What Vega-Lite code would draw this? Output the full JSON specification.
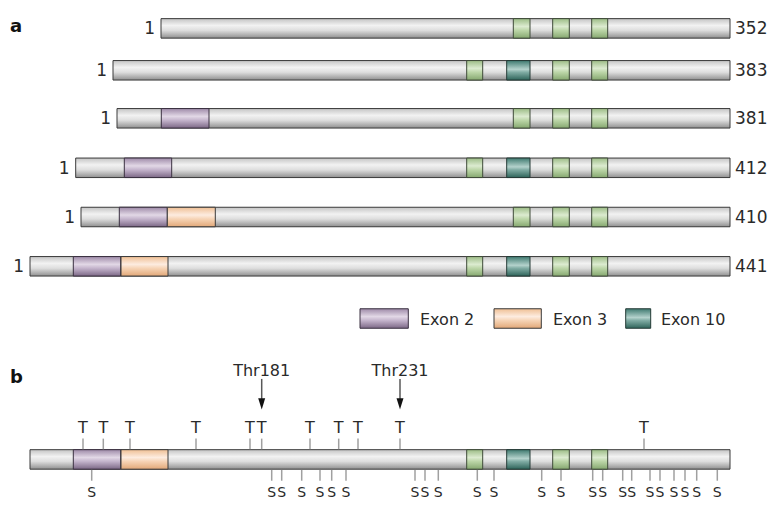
{
  "$schema": "https://vega.github.io/schema/vega-lite/v6.json",
  "width": 771,
  "height": 506,
  "autosize": {"type": "none"},
  "padding": 0,
  "background": "white",
  "config": {"view": {"stroke": null}, "text": {"font": "DejaVu Sans", "color": "#2a2a2a"}},
  "datasets": {
    "segs": [
      {"track": 1, "type": "grey", "start": 161, "end": 730},
      {"track": 1, "type": "green", "start": 513.3, "end": 530},
      {"track": 1, "type": "green", "start": 552.7, "end": 569.3},
      {"track": 1, "type": "green", "start": 591.7, "end": 607.7},
      {"track": 2, "type": "grey", "start": 113, "end": 730},
      {"track": 2, "type": "green", "start": 466.7, "end": 482.7},
      {"track": 2, "type": "teal", "start": 506.7, "end": 530},
      {"track": 2, "type": "green", "start": 552.7, "end": 569.3},
      {"track": 2, "type": "green", "start": 591.7, "end": 607.7},
      {"track": 3, "type": "grey", "start": 117, "end": 730},
      {"track": 3, "type": "purple", "start": 161.3, "end": 209},
      {"track": 3, "type": "green", "start": 513.3, "end": 530},
      {"track": 3, "type": "green", "start": 552.7, "end": 569.3},
      {"track": 3, "type": "green", "start": 591.7, "end": 607.7},
      {"track": 4, "type": "grey", "start": 75.7, "end": 730},
      {"track": 4, "type": "purple", "start": 124.3, "end": 171.7},
      {"track": 4, "type": "green", "start": 466.7, "end": 482.7},
      {"track": 4, "type": "teal", "start": 506.7, "end": 530},
      {"track": 4, "type": "green", "start": 552.7, "end": 569.3},
      {"track": 4, "type": "green", "start": 591.7, "end": 607.7},
      {"track": 5, "type": "grey", "start": 81, "end": 730},
      {"track": 5, "type": "purple", "start": 119.3, "end": 167.3},
      {"track": 5, "type": "orange", "start": 167.3, "end": 215.3},
      {"track": 5, "type": "green", "start": 513.3, "end": 530},
      {"track": 5, "type": "green", "start": 552.7, "end": 569.3},
      {"track": 5, "type": "green", "start": 591.7, "end": 607.7},
      {"track": 6, "type": "grey", "start": 30, "end": 730},
      {"track": 6, "type": "purple", "start": 73.3, "end": 120.7},
      {"track": 6, "type": "orange", "start": 121, "end": 168},
      {"track": 6, "type": "green", "start": 466.7, "end": 482.7},
      {"track": 6, "type": "teal", "start": 506.7, "end": 530},
      {"track": 6, "type": "green", "start": 552.7, "end": 569.3},
      {"track": 6, "type": "green", "start": 591.7, "end": 607.7},
      {"track": 7, "type": "purple", "start": 360, "end": 408.3},
      {"track": 7, "type": "orange", "start": 494, "end": 541.3},
      {"track": 7, "type": "teal", "start": 625.7, "end": 650.7},
      {"track": 9, "type": "grey", "start": 30, "end": 730},
      {"track": 9, "type": "purple", "start": 73.3, "end": 120.7},
      {"track": 9, "type": "orange", "start": 121, "end": 168},
      {"track": 9, "type": "green", "start": 466.7, "end": 482.7},
      {"track": 9, "type": "teal", "start": 506.7, "end": 530},
      {"track": 9, "type": "green", "start": 552.7, "end": 569.3},
      {"track": 9, "type": "green", "start": 591.7, "end": 607.7}
    ],
    "ends": [
      {"track": 1, "start": 161, "end": 730, "first": "1", "last": "352"},
      {"track": 2, "start": 113, "end": 730, "first": "1", "last": "383"},
      {"track": 3, "start": 117, "end": 730, "first": "1", "last": "381"},
      {"track": 4, "start": 75.7, "end": 730, "first": "1", "last": "412"},
      {"track": 5, "start": 81, "end": 730, "first": "1", "last": "410"},
      {"track": 6, "start": 30, "end": 730, "first": "1", "last": "441"}
    ],
    "legend": [
      {"track": 7, "pos": 420, "label": "Exon 2"},
      {"track": 7, "pos": 553, "label": "Exon 3"},
      {"track": 7, "pos": 661, "label": "Exon 10"}
    ],
    "panels": [
      {"track": 1, "pos": 10, "label": "a"},
      {"track": 8, "pos": 10, "label": "b"}
    ],
    "thr": [
      {"track": 9, "pos": 261.7, "label": "Thr181"},
      {"track": 9, "pos": 400, "label": "Thr231"}
    ],
    "sites": [
      {"track": 9, "kind": "T", "pos": 83},
      {"track": 9, "kind": "T", "pos": 103.3},
      {"track": 9, "kind": "T", "pos": 130},
      {"track": 9, "kind": "T", "pos": 196},
      {"track": 9, "kind": "T", "pos": 250},
      {"track": 9, "kind": "T", "pos": 261.7},
      {"track": 9, "kind": "T", "pos": 310},
      {"track": 9, "kind": "T", "pos": 338.7},
      {"track": 9, "kind": "T", "pos": 358},
      {"track": 9, "kind": "T", "pos": 400},
      {"track": 9, "kind": "T", "pos": 644},
      {"track": 9, "kind": "S", "pos": 91.7},
      {"track": 9, "kind": "S", "pos": 271.7},
      {"track": 9, "kind": "S", "pos": 281.7},
      {"track": 9, "kind": "S", "pos": 301.7},
      {"track": 9, "kind": "S", "pos": 320},
      {"track": 9, "kind": "S", "pos": 331.7},
      {"track": 9, "kind": "S", "pos": 346},
      {"track": 9, "kind": "S", "pos": 415},
      {"track": 9, "kind": "S", "pos": 425},
      {"track": 9, "kind": "S", "pos": 438.3},
      {"track": 9, "kind": "S", "pos": 477.3},
      {"track": 9, "kind": "S", "pos": 494},
      {"track": 9, "kind": "S", "pos": 541.7},
      {"track": 9, "kind": "S", "pos": 561},
      {"track": 9, "kind": "S", "pos": 592.7},
      {"track": 9, "kind": "S", "pos": 602.7},
      {"track": 9, "kind": "S", "pos": 622.7},
      {"track": 9, "kind": "S", "pos": 631.7},
      {"track": 9, "kind": "S", "pos": 650},
      {"track": 9, "kind": "S", "pos": 660},
      {"track": 9, "kind": "S", "pos": 674},
      {"track": 9, "kind": "S", "pos": 685},
      {"track": 9, "kind": "S", "pos": 696.7},
      {"track": 9, "kind": "S", "pos": 717.3}
    ]
  },
  "encoding": {
    "y": {"field": "track", "type": "quantitative", "axis": null,
          "scale": {"domain": [1, 2, 3, 4, 5, 6, 7, 8, 9], "range": [24.5, 70.3, 118.3, 167.8, 217, 266.3, 318.5, 383, 466.5], "zero": false, "nice": false}}
  },
  "layer": [
    {
      "data": {"name": "segs"},
      "transform": [{"filter": "datum.type === 'grey'"}],
      "mark": {"type": "bar", "orient": "horizontal", "height": 19.5, "stroke": "#3a3a3a", "strokeWidth": 1,
               "fill": {"gradient": "linear", "x1": 0, "y1": 0, "x2": 0, "y2": 1,
                        "stops": [{"offset": 0, "color": "#c4c4c4"}, {"offset": 0.35, "color": "#f2f2f2"}, {"offset": 0.6, "color": "#dedede"}, {"offset": 1, "color": "#909090"}]}},
      "encoding": {
        "x": {"field": "start", "type": "quantitative", "axis": null, "scale": {"domain": [0, 771], "zero": false, "nice": false}},
        "x2": {"field": "end"}
      }
    },
    {
      "data": {"name": "segs"},
      "transform": [{"filter": "datum.type === 'purple'"}],
      "mark": {"type": "bar", "orient": "horizontal", "height": 19.5, "stroke": "#3a3040", "strokeWidth": 1,
               "fill": {"gradient": "linear", "x1": 0, "y1": 0, "x2": 0, "y2": 1,
                        "stops": [{"offset": 0, "color": "#9e8aa8"}, {"offset": 0.4, "color": "#e2d8e6"}, {"offset": 0.6, "color": "#c4b4cc"}, {"offset": 1, "color": "#7c6886"}]}},
      "encoding": {
        "x": {"field": "start", "type": "quantitative", "axis": null, "scale": {"domain": [0, 771], "zero": false, "nice": false}},
        "x2": {"field": "end"}
      }
    },
    {
      "data": {"name": "segs"},
      "transform": [{"filter": "datum.type === 'orange'"}],
      "mark": {"type": "bar", "orient": "horizontal", "height": 19.5, "stroke": "#3a3a3a", "strokeWidth": 1,
               "fill": {"gradient": "linear", "x1": 0, "y1": 0, "x2": 0, "y2": 1,
                        "stops": [{"offset": 0, "color": "#efbf94"}, {"offset": 0.4, "color": "#fdece0"}, {"offset": 0.6, "color": "#f6d4b6"}, {"offset": 1, "color": "#e2a878"}]}},
      "encoding": {
        "x": {"field": "start", "type": "quantitative", "axis": null, "scale": {"domain": [0, 771], "zero": false, "nice": false}},
        "x2": {"field": "end"}
      }
    },
    {
      "data": {"name": "segs"},
      "transform": [{"filter": "datum.type === 'teal'"}],
      "mark": {"type": "bar", "orient": "horizontal", "height": 19.5, "stroke": "#243a36", "strokeWidth": 1,
               "fill": {"gradient": "linear", "x1": 0, "y1": 0, "x2": 0, "y2": 1,
                        "stops": [{"offset": 0, "color": "#3f7a70"}, {"offset": 0.45, "color": "#b4d2cc"}, {"offset": 0.6, "color": "#80aca4"}, {"offset": 1, "color": "#2e645a"}]}},
      "encoding": {
        "x": {"field": "start", "type": "quantitative", "axis": null, "scale": {"domain": [0, 771], "zero": false, "nice": false}},
        "x2": {"field": "end"}
      }
    },
    {
      "data": {"name": "segs"},
      "transform": [{"filter": "datum.type === 'green'"}],
      "mark": {"type": "bar", "orient": "horizontal", "height": 19.5, "stroke": "#3e4a38", "strokeWidth": 1,
               "fill": {"gradient": "linear", "x1": 0, "y1": 0, "x2": 0, "y2": 1,
                        "stops": [{"offset": 0, "color": "#9cbc86"}, {"offset": 0.4, "color": "#dcebd0"}, {"offset": 0.6, "color": "#bcd6a8"}, {"offset": 1, "color": "#86a870"}]}},
      "encoding": {
        "x": {"field": "start", "type": "quantitative", "axis": null, "scale": {"domain": [0, 771], "zero": false, "nice": false}},
        "x2": {"field": "end"}
      }
    },
    {
      "data": {"name": "ends"},
      "mark": {"type": "text", "align": "right", "baseline": "middle", "dx": -6, "dy": 1, "fontSize": 17},
      "encoding": {
        "x": {"field": "start", "type": "quantitative", "axis": null, "scale": {"domain": [0, 771], "zero": false, "nice": false}},
        "text": {"field": "first"}
      }
    },
    {
      "data": {"name": "ends"},
      "mark": {"type": "text", "align": "left", "baseline": "middle", "dx": 5, "dy": 1, "fontSize": 17},
      "encoding": {
        "x": {"field": "end", "type": "quantitative", "axis": null, "scale": {"domain": [0, 771], "zero": false, "nice": false}},
        "text": {"field": "last"}
      }
    },
    {
      "data": {"name": "legend"},
      "mark": {"type": "text", "align": "left", "baseline": "middle", "dy": 1, "fontSize": 16},
      "encoding": {
        "x": {"field": "pos", "type": "quantitative", "axis": null, "scale": {"domain": [0, 771], "zero": false, "nice": false}},
        "text": {"field": "label"}
      }
    },
    {
      "data": {"name": "panels"},
      "transform": [{"filter": "datum.label === 'a'"}],
      "mark": {"type": "text", "align": "left", "baseline": "alphabetic", "dy": 4, "fontSize": 18, "fontWeight": "bold", "color": "#111"},
      "encoding": {
        "x": {"field": "pos", "type": "quantitative", "axis": null, "scale": {"domain": [0, 771], "zero": false, "nice": false}},
        "text": {"field": "label"}
      }
    },
    {
      "data": {"name": "panels"},
      "transform": [{"filter": "datum.label === 'b'"}],
      "mark": {"type": "text", "align": "left", "baseline": "alphabetic", "dy": 0, "fontSize": 18, "fontWeight": "bold", "color": "#111"},
      "encoding": {
        "x": {"field": "pos", "type": "quantitative", "axis": null, "scale": {"domain": [0, 771], "zero": false, "nice": false}},
        "text": {"field": "label"}
      }
    },
    {
      "data": {"name": "sites"},
      "transform": [{"filter": "datum.kind === 'T'"}],
      "mark": {"type": "tick", "orient": "vertical", "size": 11, "thickness": 1.5, "yOffset": -15.3, "color": "#777"},
      "encoding": {
        "x": {"field": "pos", "type": "quantitative", "axis": null, "scale": {"domain": [0, 771], "zero": false, "nice": false}}
      }
    },
    {
      "data": {"name": "sites"},
      "transform": [{"filter": "datum.kind === 'S'"}],
      "mark": {"type": "tick", "orient": "vertical", "size": 11, "thickness": 1.5, "yOffset": 15.8, "color": "#777"},
      "encoding": {
        "x": {"field": "pos", "type": "quantitative", "axis": null, "scale": {"domain": [0, 771], "zero": false, "nice": false}}
      }
    },
    {
      "data": {"name": "sites"},
      "transform": [{"filter": "datum.kind === 'T'"}],
      "mark": {"type": "text", "align": "center", "baseline": "alphabetic", "dy": -26.5, "fontSize": 16},
      "encoding": {
        "x": {"field": "pos", "type": "quantitative", "axis": null, "scale": {"domain": [0, 771], "zero": false, "nice": false}},
        "text": {"field": "kind"}
      }
    },
    {
      "data": {"name": "sites"},
      "transform": [{"filter": "datum.kind === 'S'"}],
      "mark": {"type": "text", "align": "center", "baseline": "alphabetic", "dy": 38, "fontSize": 14},
      "encoding": {
        "x": {"field": "pos", "type": "quantitative", "axis": null, "scale": {"domain": [0, 771], "zero": false, "nice": false}},
        "text": {"field": "kind"}
      }
    },
    {
      "data": {"name": "thr"},
      "mark": {"type": "tick", "orient": "vertical", "size": 20, "thickness": 1.5, "yOffset": -70.5, "color": "#111"},
      "encoding": {
        "x": {"field": "pos", "type": "quantitative", "axis": null, "scale": {"domain": [0, 771], "zero": false, "nice": false}}
      }
    },
    {
      "data": {"name": "thr"},
      "mark": {"type": "point", "shape": "M-1,-1.6L1,-1.6L0,1.6Z", "size": 49, "filled": true, "opacity": 1, "color": "#111", "yOffset": -55.5},
      "encoding": {
        "x": {"field": "pos", "type": "quantitative", "axis": null, "scale": {"domain": [0, 771], "zero": false, "nice": false}}
      }
    },
    {
      "data": {"name": "thr"},
      "mark": {"type": "text", "align": "center", "baseline": "alphabetic", "dy": -83.5, "fontSize": 16},
      "encoding": {
        "x": {"field": "pos", "type": "quantitative", "axis": null, "scale": {"domain": [0, 771], "zero": false, "nice": false}},
        "text": {"field": "label"}
      }
    }
  ]
}
